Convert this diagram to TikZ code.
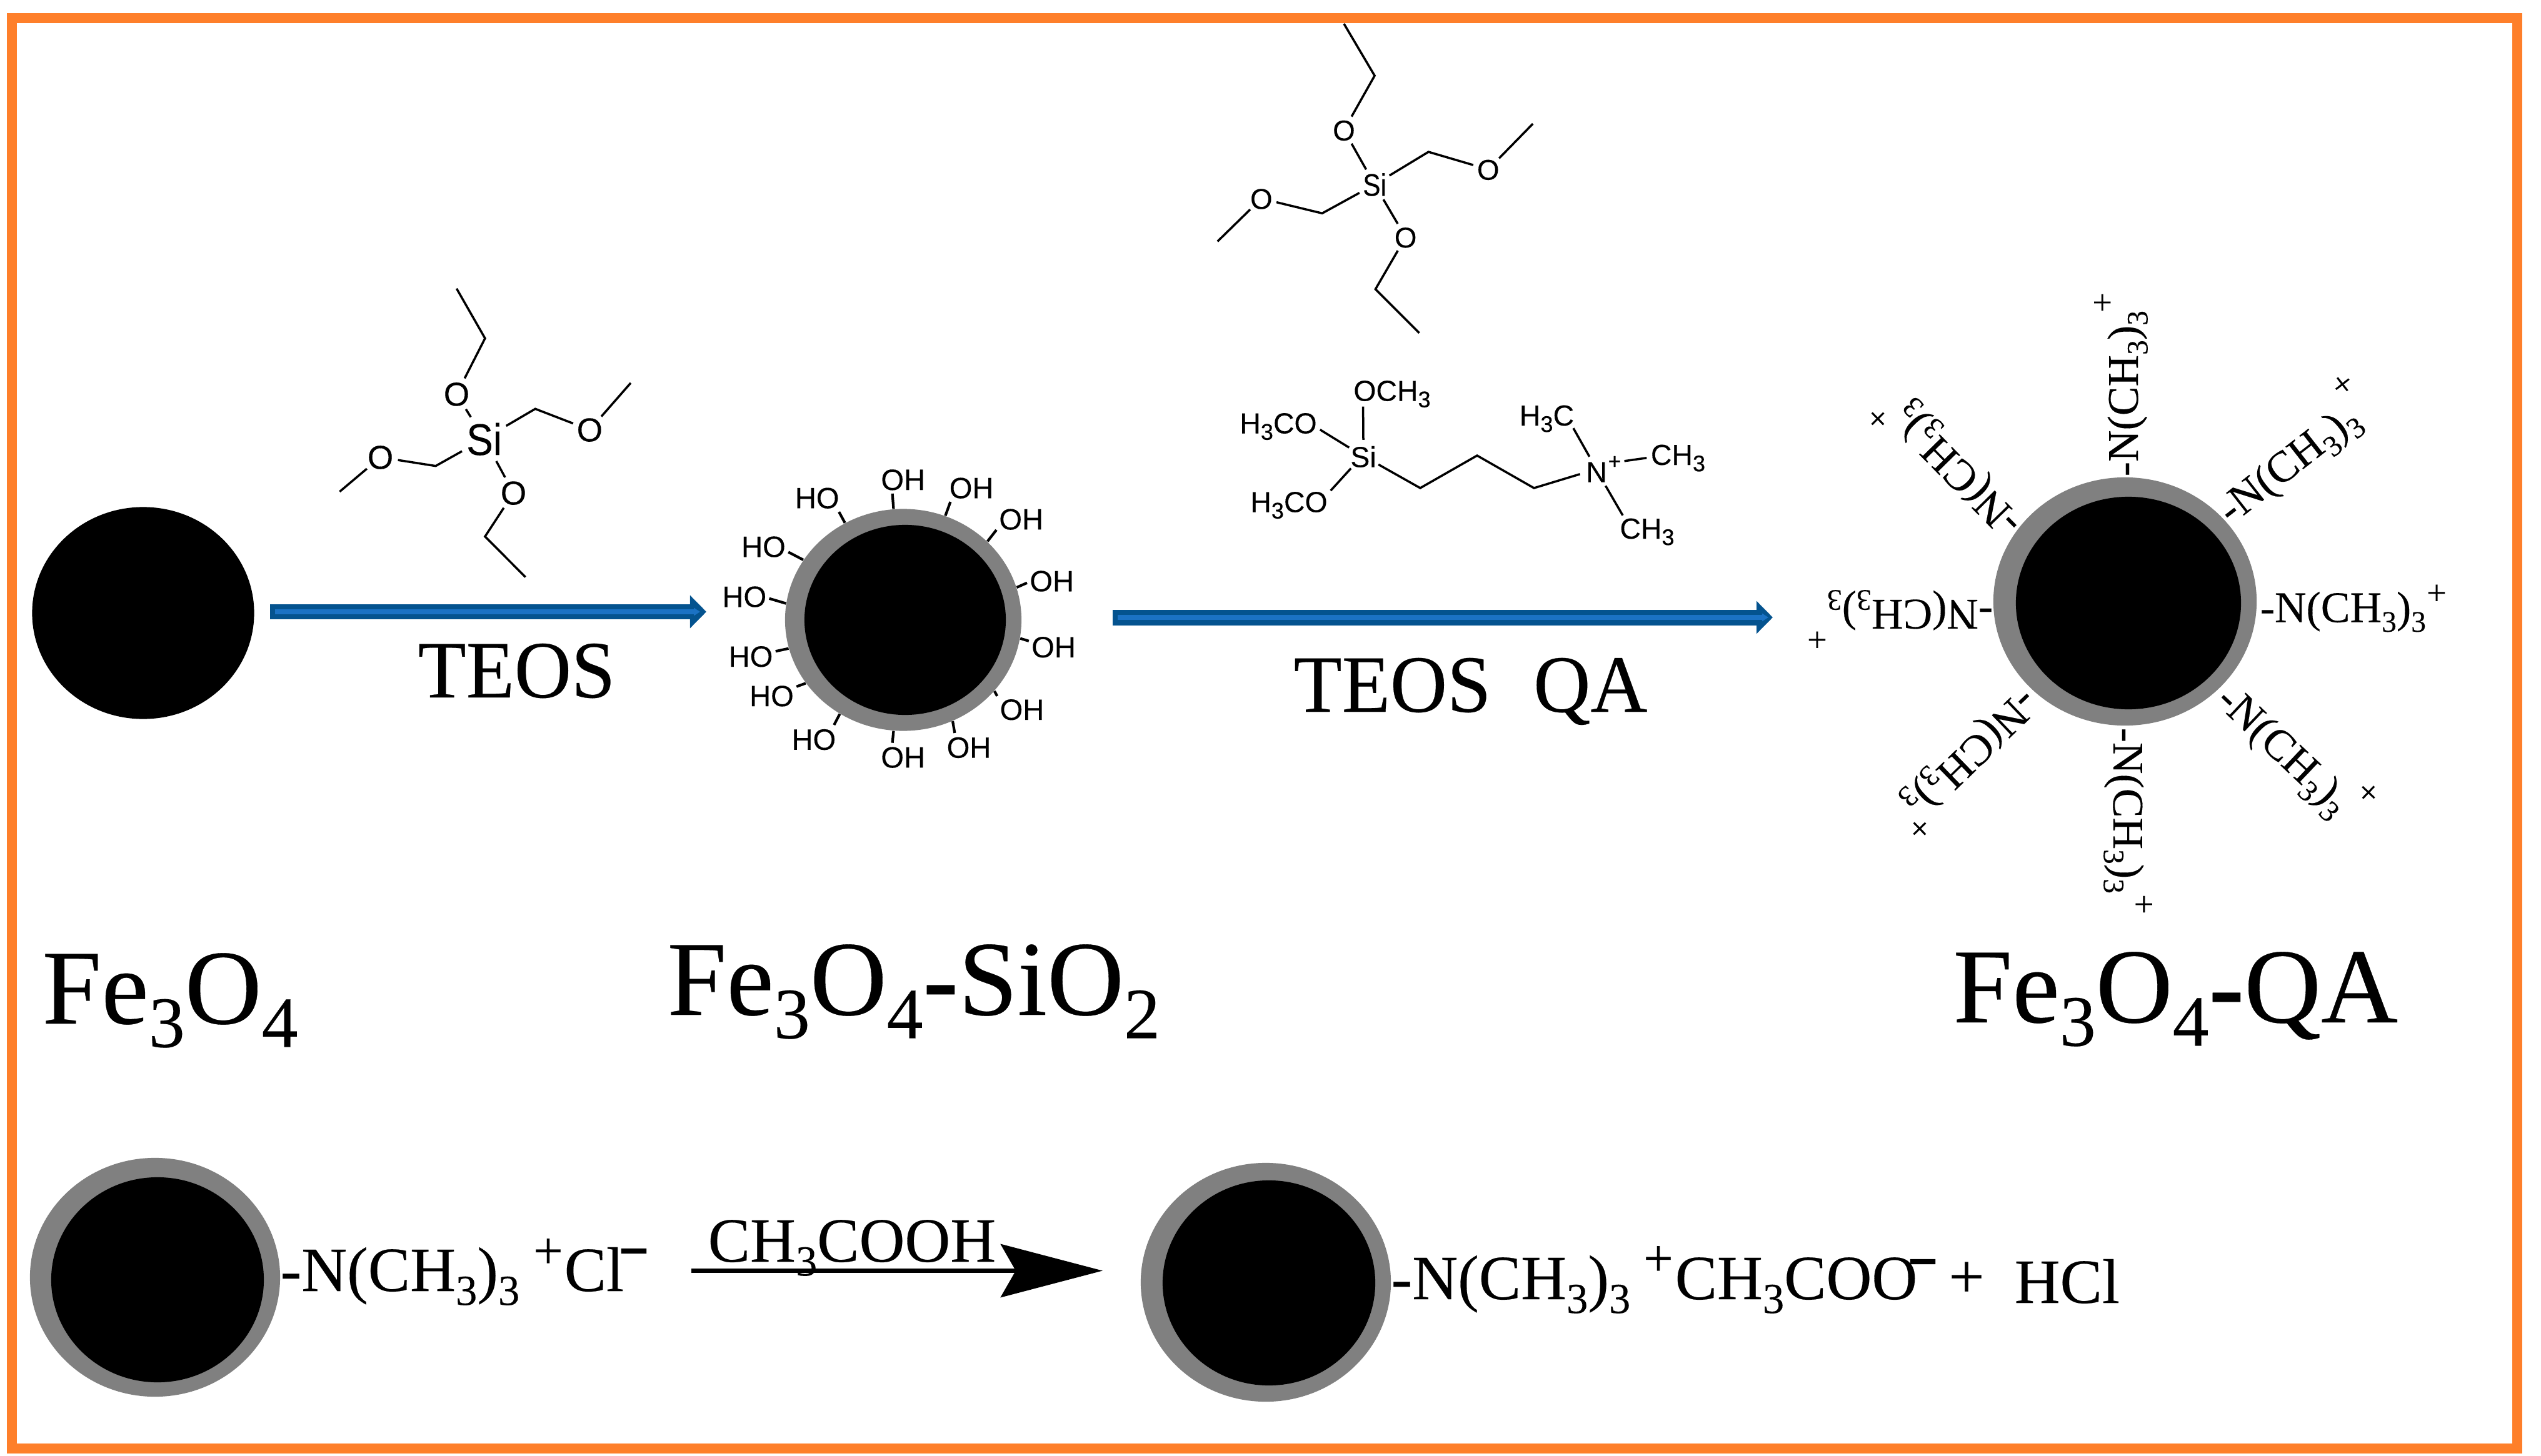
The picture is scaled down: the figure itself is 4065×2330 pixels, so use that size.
\documentclass[tikz,border=0pt]{standalone}
\usepackage{fontspec}
\setmainfont[FakeBold=0.2]{Liberation Serif}
\newfontfamily\arialf[FakeBold=0.2]{Liberation Sans}
\usetikzlibrary{arrows.meta,shapes.geometric}
\definecolor{frameor}{HTML}{FE7F2A}
\definecolor{arrdark}{HTML}{04538F}
\definecolor{arrlight}{HTML}{1B72C4}
\definecolor{shellgray}{HTML}{808080}
\newcommand\fs[1]{\fontsize{#1}{#1}\selectfont}
\newcommand\csub[1]{\raisebox{-.22em}{\scalebox{.68}{#1}}}
\newcommand\asub[1]{\raisebox{-.22em}{\scalebox{.78}{#1}}}
\newcommand\nme{-N(CH\csub{3})\csub{3}}
\tikzset{
  x=.01cm,y=-.01cm,
  bond/.style={line width=.035cm,line join=miter,black},
  tick/.style={line width=.042cm,black},
  blob/.style={ellipse,inner sep=0,fill=#1,draw=none},
  txt/.style={inner sep=0,anchor=base west},
  ohlab/.style={inner sep=0,minimum width=.78cm,minimum height=.44cm,text height=.34cm,text depth=0pt,font=\arialf\fs{13.4}},
  atomA/.style={circle,inner sep=0,minimum size=.52cm,text height=.37cm,text depth=0pt,font=\arialf\fs{15.1}},
  siA/.style={circle,inner sep=0,minimum size=.8cm,text height=.52cm,text depth=0pt,font=\arialf\fs{20.2}},
  atomB/.style={circle,inner sep=0,minimum size=.48cm,text height=.33cm,text depth=0pt,font=\arialf\fs{13}},
  siB/.style={circle,inner sep=0,minimum size=.54cm,text height=.36cm,text depth=0pt,font=\arialf\fs{14.2}},
  chem/.style={inner sep=0,text height=.33cm,text depth=0pt,font=\arialf\fs{13.2}},
  title/.style={txt,font=\fs{48.4}},
  reag/.style={txt,font=\fs{37}},
  eqn/.style={txt,font=\fs{28.7}},
  qa/.style={txt,font=\fs{19.9}},
  qaplus/.style={inner sep=0,font=\fs{16}},
  chg/.style={inner sep=0,font=\fs{24}},
  minus/.style={inner sep=0,anchor=base,font=\fs{31.3}\bfseries},
  bluearrow/.style={line width=#1,arrdark,-{Triangle[length=.26cm,width=.51cm]}},
  bluecore/.style={line width=.08cm,arrlight,-{Triangle[length=.1cm,width=.12cm]}},
}
\begin{document}
\begin{tikzpicture}
\useasboundingbox (0,0) rectangle (4065,2330);
\fill[white] (0,0) rectangle (4065,2330);
\draw[frameor,line width=.16cm] (19,29) rectangle (4027,2318);

% particles
\node[blob=black,minimum width=3.55cm,minimum height=3.39cm] (p1) at (229,981) {};
\node[blob=shellgray,minimum width=3.78cm,minimum height=3.55cm] (s2) at (1445,992) {};
\node[blob=black,minimum width=3.22cm,minimum height=3.04cm] (p2) at (1448,992) {};
\node[blob=shellgray,minimum width=4.21cm,minimum height=3.97cm] (s3) at (3399.5,962.5) {};
\node[blob=black,minimum width=3.60cm,minimum height=3.40cm] (p3) at (3405,965) {};
\node[blob=shellgray,minimum width=4.00cm,minimum height=3.82cm] (s4) at (248,2044) {};
\node[blob=black,minimum width=3.40cm,minimum height=3.28cm] (p4) at (252,2048) {};
\node[blob=shellgray,minimum width=4.00cm,minimum height=3.82cm] (s5) at (2025,2052) {};
\node[blob=black,minimum width=3.40cm,minimum height=3.28cm] (p5) at (2030,2053) {};

% TEOS molecule 1
\begin{scope}[shift={(480,420)},xscale=.4464,yscale=.3571]
  \node[siA] (aSi) at (660,790) {\scalebox{.9}[1]{Si}};
  \node[atomA] (aO1) at (561,590) {O};
  \node[atomA] (aO2) at (1038,750) {O};
  \node[atomA] (aO3) at (288,873) {O};
  \node[atomA] (aO4) at (765,1033) {O};
  \coordinate (aC1) at (663,340);
  \coordinate (aC1e) at (561,117);
  \coordinate (aC2) at (843,656);
  \coordinate (aC2e) at (1185,540);
  \coordinate (aC3) at (486,912);
  \coordinate (aC3e) at (142,1027);
  \coordinate (aC4) at (663,1228);
  \coordinate (aC4e) at (808,1410);
  \draw[bond] (aSi) -- (aO1) -- (aC1) -- (aC1e);
  \draw[bond] (aSi) -- (aC2) -- (aO2) -- (aC2e);
  \draw[bond] (aSi) -- (aC3) -- (aO3) -- (aC3e);
  \draw[bond] (aSi) -- (aO4) -- (aC4) -- (aC4e);
\end{scope}

% TEOS molecule 2
\begin{scope}[shift={(1900,20)},xscale=.4464,yscale=.5618]
  \node[siB] (bSi) at (670,490) {\scalebox{.85}[1]{Si}};
  \node[atomB] (bO1) at (560,335) {O};
  \node[atomB] (bO2) at (1077,447) {O};
  \node[atomB] (bO3) at (264,530) {O};
  \node[atomB] (bO4) at (781,640) {O};
  \coordinate (bC1) at (670,180);
  \coordinate (bC1e) at (560,32);
  \coordinate (bC2) at (863,397);
  \coordinate (bC2e) at (1237,317);
  \coordinate (bC3) at (482,572);
  \coordinate (bC3e) at (107,652);
  \coordinate (bC4) at (673,788);
  \coordinate (bC4e) at (830,913);
  \draw[bond] (bSi) -- (bO1) -- (bC1) -- (bC1e);
  \draw[bond] (bSi) -- (bC2) -- (bO2) -- (bC2e);
  \draw[bond] (bSi) -- (bC3) -- (bO3) -- (bC3e);
  \draw[bond] (bSi) -- (bO4) -- (bC4) -- (bC4e);
\end{scope}

% QA silane
\node[circle,chem,minimum size=.52cm] (qSi) at (2181,731) {Si};
\node[chem,minimum width=1.4cm,minimum height=.5cm] (qO1) at (2227,625) {OCH\asub{3}};
\node[chem,minimum width=1.32cm,minimum height=.5cm] (qO2) at (2045,677) {H\asub{3}CO};
\node[chem,minimum width=1.32cm,minimum height=.5cm] (qO3) at (2062,803) {H\asub{3}CO};
\node[circle,chem,minimum size=.52cm] (qN) at (2554,755) {N};
\node[circle,inner sep=0,minimum size=.3cm,font=\arialf\fs{10}] (qNp) at (2583,740) {+};
\node[chem,minimum width=.84cm,minimum height=.4cm] (qM1) at (2474.5,664.5) {H\asub{3}C};
\node[chem,minimum width=.99cm,minimum height=.4cm] (qM2) at (2684.5,727.5) {CH\asub{3}};
\node[chem,minimum width=.9cm,minimum height=.4cm] (qM3) at (2635,845.5) {CH\asub{3}};
\coordinate (qV1) at (2272,781);
\coordinate (qV2) at (2363,729);
\coordinate (qV3) at (2454,781);
\draw[bond] (qO1.-151.5) -- (qSi.90);
\draw[bond] (qO2.-9.9) -- (qSi.147.5);
\draw[bond] (qO3.15) -- (qSi.-137.9);
\draw[bond] (qSi.-27.4) -- (qV1) -- (qV2) -- (qV3) -- (qN.188);
\draw[bond] (qM1.-26.3) -- (qN.115.6);
\draw[bond] (qNp) -- (qM2.-174.8);
\draw[bond] (qN.-57) -- (qM3.152.8);

% hydroxyl groups
\begin{scope}[shift={(1150,700)},xscale=.4082,yscale=.3571]
\foreach \i/\x/\y/\t/\la/\sa in {
  1/722/188/OH/-127/95.4, 2/990/225/OH/-146.3/68.3, 3/1185/365/OH/-156.4/43.2,
  4/1305/642/OH/-175.6/16.7, 5/1312/938/OH/167.4/-9.2, 6/1188/1218/OH/152/-38,
  7/980/1388/OH/135.3/-64.3, 8/722/1432/OH/127/-95.4, 9/372/1352/HO/35.5/-124.4,
  10/207/1157/HO/20/-147.8, 11/125/980/HO/11.7/-166.2, 12/100/712/HO/-5.6/172.1,
  13/175/488/HO/-13.8/149.6, 14/385/270/HO/-33.3/121.8}{
  \node[ohlab] (oh\i) at (\x,\y) {\t};
  \draw[tick] (oh\i.\la) -- (s2.\sa);
}
\end{scope}

% blue arrows
\coordinate (a1s) at (432,979);
\coordinate (a1e) at (1130,979);
\coordinate (a1is) at (440,979);
\coordinate (a1ie) at (1120,979);
\draw[bluearrow=.24cm] (a1s) -- (a1e);
\draw[bluecore] (a1is) -- (a1ie);
\coordinate (a2s) at (1780,988);
\coordinate (a2e) at (2836,988);
\coordinate (a2is) at (1788,988);
\coordinate (a2ie) at (2829,988);
\draw[bluearrow=.25cm] (a2s) -- (a2e);
\draw[bluecore] (a2is) -- (a2ie);

\node[reag] (teos1) at (668,1116) {\scalebox{.97}[1]{TEOS}};
\node[reag] (teos2) at (2069,1139) {\scalebox{.97}[1]{TEOS\hspace{.54em}QA}};

% quaternary ammonium arms
\node[qa,rotate=0]   (n1) at (3615,995.5) {\nme};
\node[qa,rotate=90]  (n2) at (3420,763) {\nme};
\node[qa,rotate=180] (n3) at (3189,960) {\nme};
\node[qa,rotate=-90] (n4) at (3381,1164) {\nme};
\node[qa,rotate=38]  (n5) at (3569,841) {\nme};
\node[qa,rotate=-43.5] (n6) at (3542,1124) {\nme};
\node[qa,rotate=134.4] (n7) at (3238,833) {\nme};
\node[qa,rotate=224] (n8) at (3235,1098) {\nme};
\node[qaplus,rotate=0]   (c1) at (3898,951.5) {+};
\node[qaplus,rotate=90]  (c2) at (3366,484) {+};
\node[qaplus,rotate=180] (c3) at (2907,1021) {+};
\node[qaplus,rotate=-90] (c4) at (3427,1447) {+};
\node[qaplus,rotate=38]  (c5) at (3749,617) {+};
\node[qaplus,rotate=-43.5] (c6) at (3787,1270) {+};
\node[qaplus,rotate=134.4] (c7) at (3006,668) {+};
\node[qaplus,rotate=224] (c8) at (3069,1324) {+};

% titles
\node[title] (f1) at (67,1638) {Fe\csub{3}O\csub{4}};
\node[title] (f2) at (1067,1624) {Fe\csub{3}O\csub{4}\textbf{-}SiO\csub{2}};
\node[title] (f3) at (3124,1636) {Fe\csub{3}O\csub{4}\textbf{-}QA};

% bottom reaction
\coordinate (a3s) at (1106,2033.5);
\coordinate (a3e) at (1764,2033.5);
\draw[line width=.07cm,-{Stealth[length=1.63cm,width=.85cm,inset=.24cm]}] (a3s) -- (a3e);
\node[eqn] (e1) at (448,2066) {\nme};
\node[chg] (e2) at (877,2006) {+};
\node[eqn] (e3) at (902,2066) {Cl};
\node[minus] (e4) at (1014,2024) {\scalebox{1.4}[.85]{-}};
\node[eqn] (e5) at (1132,2019) {CH\csub{3}COOH};
\node[eqn] (e6) at (2225,2079) {\nme};
\node[chg] (e7) at (2653,2018) {+};
\node[eqn] (e8) at (2679,2079) {CH\csub{3}COO};
\node[minus] (e9) at (3076,2041) {\scalebox{1.4}[.85]{-}};
\node[inner sep=0,font=\fs{28.7}] (e10) at (3146,2048) {+};
\node[eqn] (e11) at (3222,2085) {HCl};
\end{tikzpicture}
\end{document}
